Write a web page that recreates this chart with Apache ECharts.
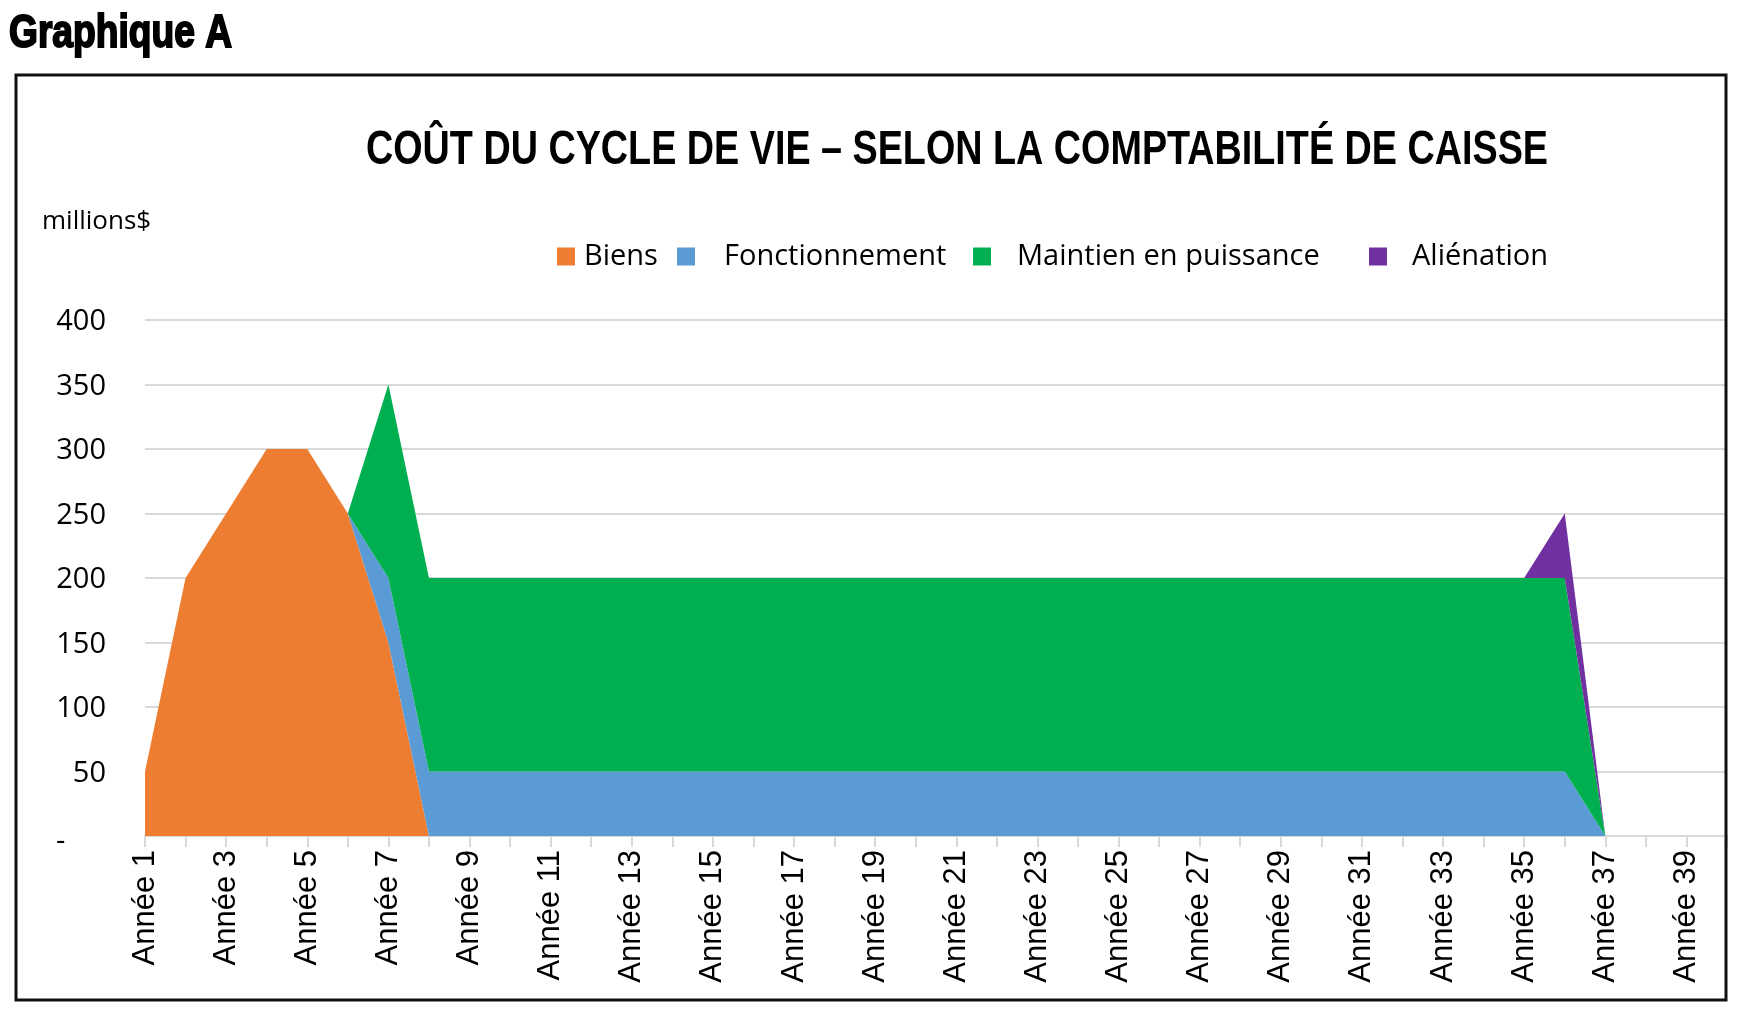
<!DOCTYPE html>
<html><head><meta charset="utf-8">
<script src="https://cdn.jsdelivr.net/npm/echarts@6/dist/echarts.min.js"></script>
<style>html,body{margin:0;padding:0;background:#fff}#c{width:1748px;height:1020px}</style>
</head><body><div id="c"></div>
<script>
const years = ['Année 1','Année 2','Année 3','Année 4','Année 5','Année 6','Année 7','Année 8','Année 9','Année 10',
'Année 11','Année 12','Année 13','Année 14','Année 15','Année 16','Année 17','Année 18','Année 19','Année 20',
'Année 21','Année 22','Année 23','Année 24','Année 25','Année 26','Année 27','Année 28','Année 29','Année 30',
'Année 31','Année 32','Année 33','Année 34','Année 35','Année 36','Année 37','Année 38','Année 39','Année 40'];
const seriesNames = ['Biens','Fonctionnement','Maintien en puissance','Aliénation'];
const biens = [50,200,250,300,300,250,150,0,0,0, 0,0,0,0,0,0,0,0,0,0, 0,0,0,0,0,0,0,0,0,0, 0,0,0,0,0,0,0,0,0,0];
const fonctionnement = [0,0,0,0,0,0,50,50,50,50, 50,50,50,50,50,50,50,50,50,50, 50,50,50,50,50,50,50,50,50,50, 50,50,50,50,50,50,0,0,0,0];
const maintien = [0,0,0,0,0,0,150,150,150,150, 150,150,150,150,150,150,150,150,150,150, 150,150,150,150,150,150,150,150,150,150, 150,150,150,150,150,150,0,0,0,0];
const alienation = [0,0,0,0,0,0,0,0,0,0, 0,0,0,0,0,0,0,0,0,0, 0,0,0,0,0,0,0,0,0,0, 0,0,0,0,0,50,0,0,0,0];
const yTicks = {min:0, max:400, interval:50};
const titleText = 'COÛT DU CYCLE DE VIE – SELON LA COMPTABILITÉ DE CAISSE';
const headText = 'Graphique A';
const unitText = 'millions$';
const colors = ['#ED7D31','#5B9BD5','#00B050','#7030A0'];

function fitScale(text, font, target){
  const cv = document.createElement('canvas').getContext('2d');
  cv.font = font;
  const w = cv.measureText(text).width;
  return w > 0 ? target / w : 1;
}
const headFont = 'bold 46px "Liberation Sans"';
const titleFont = 'bold 48px "Liberation Sans"';
const headScale = fitScale(headText, headFont, 223);
const titleScale = fitScale(titleText, titleFont, 1182);

const chart = echarts.init(document.getElementById('c'), null, {renderer:'canvas'});
const vals = [biens, fonctionnement, maintien, alienation];
const legendPos = [[557,4],[677,24],[973,21],[1369,20]];
const option = {
  animation:false,
  backgroundColor:'#fff',
  grid:{left:145, right:21, top:320, bottom:184, containLabel:false},
  legend: seriesNames.map((n,i)=>({
    data:[n], left:legendPos[i][0], top:242, padding:0, icon:'rect', itemWidth:18, itemHeight:18,
    selectedMode:false,
    textStyle:{fontFamily:'Open Sans', fontSize:29, color:'#000', padding:[0,0,0,legendPos[i][1]]}
  })),
  xAxis:{
    type:'category', boundaryGap:false, data:years,
    axisLine:{lineStyle:{color:'#d9d9d9', width:2}},
    axisTick:{show:true, interval:0, length:11, lineStyle:{color:'#d9d9d9', width:2}},
    axisLabel:{interval:1, rotate:90, fontFamily:'Liberation Sans', fontSize:31, color:'#000', margin:14},
    splitLine:{show:false}
  },
  yAxis:{
    type:'value', min:yTicks.min, max:yTicks.max, interval:yTicks.interval,
    axisLine:{show:false}, axisTick:{show:false},
    splitLine:{lineStyle:{color:'#d9d9d9', width:2}},
    axisLabel:{fontFamily:'Open Sans', fontSize:29, color:'#000', margin:39, padding:[4,0,0,0],
      formatter:v => v===0 ? '{d|-}' : String(v),
      rich:{d:{width:50, align:'left', fontFamily:'Open Sans', fontSize:29, color:'#000', padding:[8,0,0,0]}}}
  },
  series: seriesNames.map((n,i)=>({
    name:n, type:'line', stack:'total', data:vals[i], symbol:'none', showSymbol:false,
    lineStyle:{width:0}, areaStyle:{opacity:1, color:colors[i]}, itemStyle:{color:colors[i]}, z:2
  })),
  graphic:[
    {type:'rect', shape:{x:16, y:75, width:1710, height:925}, style:{fill:'none', stroke:'#111', lineWidth:3}, z:100},
    {type:'text', x:9, y:34, scaleX:headScale, style:{text:headText, font:headFont, fill:'#000', stroke:'#000', lineWidth:2, align:'left', verticalAlign:'middle'}},
    {type:'text', x:957, y:151, scaleX:titleScale, style:{text:titleText, font:titleFont, fill:'#000', align:'center', verticalAlign:'middle'}},
    {type:'text', x:42, y:222, style:{text:unitText, font:'26px "Open Sans"', fill:'#000', align:'left', verticalAlign:'middle'}}
  ]
};
chart.setOption(option);
</script>
</body></html>
